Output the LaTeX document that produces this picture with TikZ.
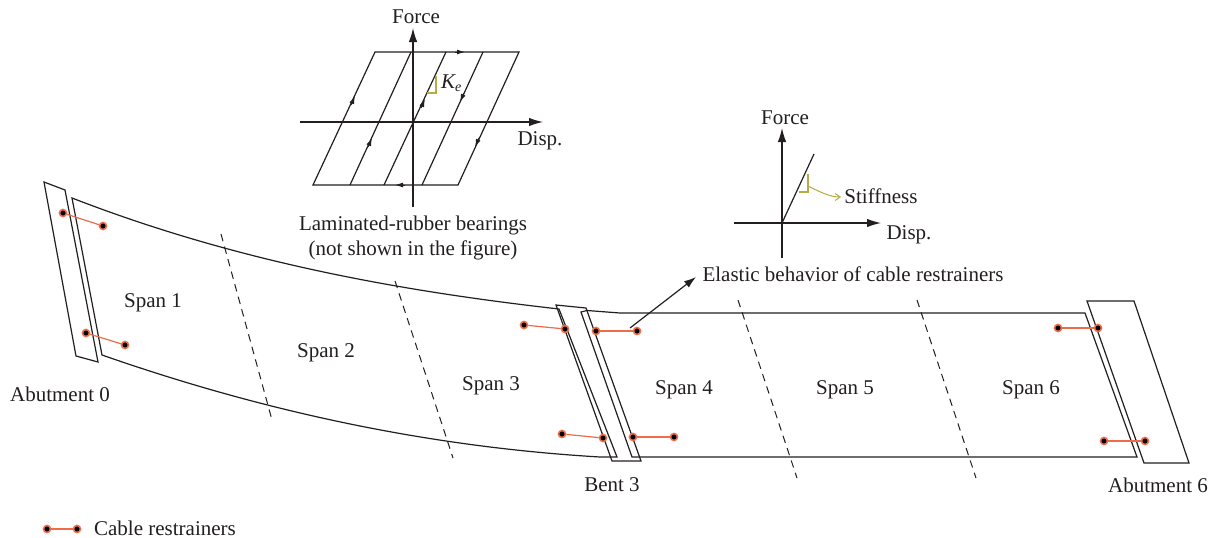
\documentclass[tikz,border=0pt]{standalone}
\usepackage{fontspec}
\setmainfont{Liberation Serif}
\usetikzlibrary{arrows.meta}
\definecolor{ink}{HTML}{231F20}
\definecolor{restr}{HTML}{EE6C4A}
\definecolor{olivey}{HTML}{B5AC45}
\tikzset{
  x=1pt,y=-1pt,
  lbl/.style={inner sep=0pt,text=ink,font=\fontsize{21}{25}\selectfont,align=center},
  struct/.style={draw=ink,line width=1.2pt,line join=miter},
  axis/.style={draw=ink,line width=1.2pt,-{Latex[length=14pt,width=8.5pt]}},
  loopline/.style={draw=ink,line width=1.2pt},
  dashline/.style={draw=ink,line width=1pt,dash pattern=on 7.5pt off 5.5pt},
  rdot/.style={circle,fill=black,draw=restr,line width=1.6pt,minimum size=7pt,inner sep=0pt},
  rline/.style={draw=restr,line width=1.2pt},
  midtip/.style={-{Latex[length=8pt,width=5pt]},draw=ink,line width=1pt},
  slopemark/.style={draw=olivey,line width=1.1pt},
}
\begin{document}
\begin{tikzpicture}
\useasboundingbox[fill=white] (0,0) rectangle (1218,538);
% Abutment 0
\draw[struct] (44,182) -- (65,190) -- (98,362) -- (76,356) -- cycle;
% curved deck
\coordinate (tl) at (72,198); \coordinate (bl) at (102,355);
\coordinate (tr) at (559,309); \coordinate (br) at (617,457);
\draw[struct] (tl) .. controls (237,262) and (400,291) .. (tr) -- (br) -- (600,457)
  .. controls (430,447) and (265,412) .. (bl) -- cycle;
% straight deck
\coordinate (t4) at (581,312); \coordinate (b4) at (632,457);
\coordinate (t6) at (1085,313); \coordinate (b6) at (1137,457);
\draw[struct] (t4) -- (587,310.5) -- (620,313) -- (t6) -- (b6) -- (b4) -- cycle;
% Bent 3
\draw[struct] (556,305) -- (586,308) -- (641,461) -- (612,461) -- cycle;
% Abutment 6
\draw[struct] (1087,301) -- (1134,301) -- (1189,463) -- (1144,463) -- cycle;
% dashed joints
\coordinate (d1a) at (221,234); \coordinate (d1b) at (272,420);
\coordinate (d2a) at (395,281); \coordinate (d2b) at (453,458);
\coordinate (d3a) at (738,300); \coordinate (d3b) at (797,478);
\coordinate (d4a) at (917,300); \coordinate (d4b) at (976,478);
\draw[dashline] (d1a) -- (d1b);
\draw[dashline] (d2a) -- (d2b);
\draw[dashline] (d3a) -- (d3b);
\draw[dashline] (d4a) -- (d4b);
% restrainers
\foreach \n/\ax/\ay/\bx/\by in {
  a/63/213/103/226, b/86/333/125/345, c/524/325/565/329, d/562/434/603/438,
  e/596/331/637/331, f/633/437/674/437, g/1058/328/1098/328, h/1104/441/1145/441,
  k/47/529/77/529}{
  \node[rdot] (\n1) at (\ax,\ay) {};
  \node[rdot] (\n2) at (\bx,\by) {};
  \draw[rline] (\n1) -- (\n2);
}
% pointer
\coordinate (ptr) at (630,328);
\coordinate (ptrend) at (696,277);
\draw[draw=ink,line width=1.2pt,-{Latex[length=12pt,width=8pt]}] (ptr) -- (ptrend);
% labels
\node[lbl] (s1) at (153,303) {Span 1};
\node[lbl] (s2) at (326,353) {Span 2};
\node[lbl] (s3) at (491,386) {Span 3};
\node[lbl] (s4) at (684,390) {Span 4};
\node[lbl] (s5) at (845,390) {Span 5};
\node[lbl] (s6) at (1031,390) {Span 6};
\node[lbl] (ab0) at (60,394) {Abutment 0};
\node[lbl] (b3) at (612,485) {Bent 3};
\node[lbl] (ab6) at (1158,485) {Abutment 6};
\node[lbl] (leg) at (165,528) {Cable restrainers};
% hysteresis plot
\coordinate (yb) at (413,207); \coordinate (yt) at (413,28);
\coordinate (xl) at (300,122); \coordinate (xr) at (543,122);
\draw[axis] (yb) -- (yt);
\draw[axis] (xl) -- (xr);
\draw[loopline] (375,52) -- (519,52) -- (458,185) -- (313,185) -- cycle;
\draw[loopline] (411,52) -- (350,185);
\draw[loopline] (446,52) -- (384,185);
\draw[loopline] (483,52) -- (422,185);
\draw[midtip] (455,52) -- (465,52);
\draw[midtip] (405,185) -- (395,185);
\draw[midtip] (351,105) -- (355,96);
\draw[midtip] (368,147) -- (372,138);
\draw[midtip] (421,108) -- (425,99);
\draw[midtip] (464,93) -- (460,102);
\draw[midtip] (479,138) -- (475,147);
\draw[slopemark] (427,93) -- (436,93) -- (436,76);
\node[lbl,anchor=base west,font=\fontsize{21}{25}\selectfont\itshape] (ke) at (441,88) {K\rlap{\raisebox{-3.5pt}{\fontsize{14}{14}\selectfont\itshape e}}};
\node[lbl] (f1) at (416,17) {Force};
\node[lbl] (d1) at (540,141) {Disp.};
\node[lbl] (lam) at (413,238) {Laminated-rubber bearings\\(not shown in the figure)};
% elastic plot
\coordinate (yb2) at (782,258); \coordinate (yt2) at (782,128);
\coordinate (xl2) at (734,223); \coordinate (xr2) at (881,223);
\coordinate (el1) at (782,223); \coordinate (el2) at (814,154);
\draw[axis] (yb2) -- (yt2);
\draw[axis] (xl2) -- (xr2);
\draw[loopline] (el1) -- (el2);
\draw[slopemark] (799,192) -- (808,192) -- (808,174);
\node[lbl] (f2) at (785,118) {Force};
\node[lbl] (d2) at (909,235) {Disp.};
\node[lbl] (st) at (881,196) {Stiffness};
\node[lbl] (el) at (853,274) {Elastic behavior of cable restrainers};
\coordinate (c1) at (808,186);
\coordinate (c2) at (841,197);
\draw[olivey,line width=1pt,-{Straight Barb[length=5pt,width=7pt]}] (c1) .. controls (820,192) and (830,197) .. (c2);
\end{tikzpicture}
\end{document}
